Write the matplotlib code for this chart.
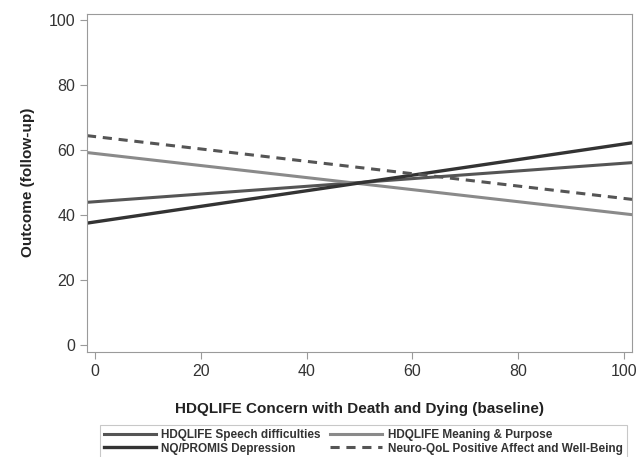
import numpy as np
import matplotlib.pyplot as plt

plt.rcParams['font.family'] = ['Liberation Sans', 'DejaVu Sans']

# line end points read at the left and right axis edges
x_ends = [-1.5, 101.5]
speech = [44.0, 56.2]
meaning = [59.3, 40.2]
depression = [37.6, 62.3]
pos_affect = [64.5, 44.9]

labels = ['HDQLIFE Speech difficulties', 'HDQLIFE Meaning & Purpose',
          'NQ/PROMIS Depression', 'Neuro-QoL Positive Affect and Well-Being']

fig = plt.figure(figsize=(6.42, 4.57), dpi=100)
ax = fig.add_axes([0.1355, 0.23, 0.849, 0.74])

l1, = ax.plot(x_ends, speech, color='#555555', lw=2.2)
l2, = ax.plot(x_ends, meaning, color='#8a8a8a', lw=2.2)
l3, = ax.plot(x_ends, depression, color='#333333', lw=2.4)
l4, = ax.plot(x_ends, pos_affect, color='#555555', lw=2.2, ls=(0, (3, 2.2)))

ax.set_xlim(x_ends)
ax.set_ylim(-2, 102)
ax.set_xticks(np.arange(0, 101, 20))
ax.set_yticks(np.arange(0, 101, 20))
for s in ax.spines.values():
    s.set_color('#9a9a9a')
ax.tick_params(colors='#9a9a9a', labelcolor='#333333', labelsize=11.5, length=5)

ax.set_xlabel('HDQLIFE Concern with Death and Dying (baseline)', fontsize=11,
              fontweight='bold', color='#222222', labelpad=17)
ax.set_ylabel('Outcome (follow-up)', fontsize=11, fontweight='bold',
              color='#222222', labelpad=10)

# matplotlib fills legend columns first, so order for row-wise reading
leg = fig.legend([l1, l3, l2, l4], [labels[0], labels[2], labels[1], labels[3]],
                 loc='upper left', bbox_to_anchor=(100 / 642, 1 - 425 / 457),
                 borderaxespad=0, ncol=2, frameon=True, fancybox=False,
                 handlelength=4.4, handletextpad=0.45, borderpad=0.35, labelspacing=0.12,
                 columnspacing=0.8, prop={'weight': 'bold', 'size': 8.5})
leg.get_frame().set_edgecolor('#bbbbbb')
leg.get_frame().set_linewidth(0.8)
for t in leg.get_texts():
    t.set_color('#333333')

fig.savefig('out.png', dpi=100)
